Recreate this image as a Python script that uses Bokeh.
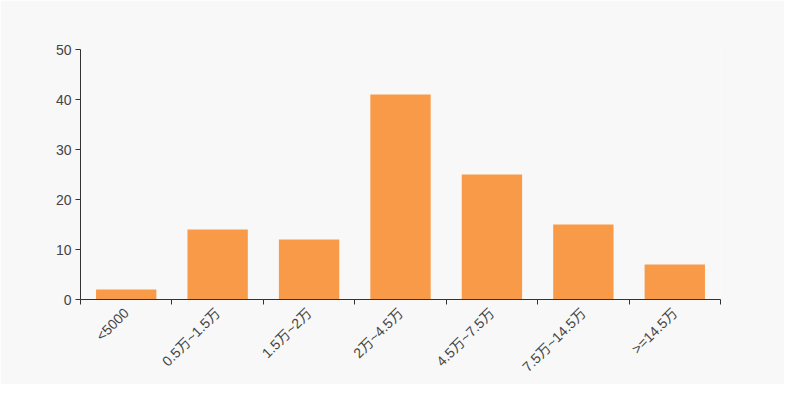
import math
from bokeh.plotting import figure
from bokeh.models import Range1d, FixedTicker, ColumnDataSource
from bokeh.embed import file_html
from bokeh.resources import INLINE

categories = ["<5000", "0.5万~1.5万", "1.5万~2万", "2万~4.5万", "4.5万~7.5万", "7.5万~14.5万", ">=14.5万"]
values = [2, 14, 12, 41, 25, 15, 7]
y_ticks = [0, 10, 20, 30, 40, 50]

n = len(categories)
centers = [i + 0.5 for i in range(n)]
src = ColumnDataSource(dict(x=centers, top=values))

BG = "#f8f8f8"
FONT = "Liberation Sans, Arial, Noto Sans CJK SC, sans-serif"
TXT = "#444444"
AX = "#333333"

p = figure(width=784, height=384, output_backend="svg", toolbar_location=None,
           x_range=Range1d(0, n), y_range=Range1d(0, 50),
           min_border_left=80, min_border_right=64, min_border_top=49, min_border_bottom=85)
p.background_fill_color = BG
p.border_fill_color = BG
p.outline_line_color = None
p.grid.visible = False

p.vbar(x="x", top="top", width=0.66, bottom=0, source=src, fill_color="#f99a48", line_color=None)

xa = p.xaxis[0]
xa.ticker = FixedTicker(ticks=centers, minor_ticks=list(range(n + 1)))
xa.major_label_overrides = {c: lab for c, lab in zip(centers, categories)}
xa.major_label_orientation = math.pi / 4
xa.major_tick_line_color = None
xa.major_tick_out = 0
xa.major_tick_in = 0
xa.minor_tick_out = 5
xa.minor_tick_in = 0
xa.minor_tick_line_color = AX
xa.axis_line_color = AX
xa.major_label_text_color = TXT
xa.major_label_text_font = FONT
xa.major_label_text_font_size = "14px"
xa.major_label_standoff = 6

ya = p.yaxis[0]
ya.ticker = FixedTicker(ticks=y_ticks)
ya.minor_tick_line_color = None
ya.major_tick_out = 5
ya.major_tick_in = 0
ya.major_tick_line_color = AX
ya.axis_line_color = AX
ya.major_label_text_color = TXT
ya.major_label_text_font = FONT
ya.major_label_text_font_size = "14px"
ya.major_label_standoff = 4

html = file_html(p, INLINE)
html = html.replace("<body>", '<body style="background:%s">' % BG, 1)
open("out.html", "w").write(html)
